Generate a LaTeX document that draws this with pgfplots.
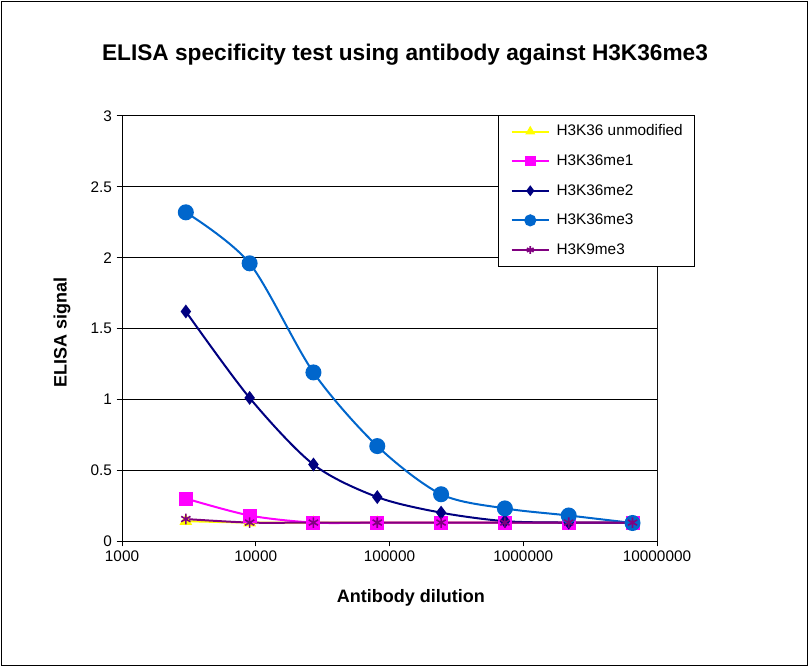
\documentclass[border=0pt]{standalone}
\usepackage{fontspec}
\setmainfont{Liberation Sans}
\usepackage{pgfplots}
\pgfplotsset{compat=1.18}
\usetikzlibrary{calc}

\definecolor{cUnmod}{RGB}{255,255,0}
\definecolor{cMeOne}{RGB}{255,0,255}
\definecolor{cMeTwo}{RGB}{0,0,128}
\definecolor{cMeThree}{RGB}{0,102,204}
\definecolor{cKnine}{RGB}{128,0,128}

\begin{document}
\begin{tikzpicture}
\begin{axis}[
    at={(0,0)}, anchor=south west,
    scale only axis,
    width=401.25pt, height=318.75pt,
    xmode=log, log basis x=10,
    xmin=1000, xmax=10000000,
    ymin=0, ymax=3,
    xtick={1000,10000,100000,1000000,10000000},
    xticklabels={1000,10000,100000,1000000,10000000},
    ytick={0,0.5,1,1.5,2,2.5,3},
    yticklabels={0,0.5,1,1.5,2,2.5,3},
    minor xtick={}, 
    xtick pos=bottom, ytick pos=left,
    tick align=outside,
    major tick length=4pt,
    tick style={black, line width=0.75pt},
    axis line style={black, line width=0.75pt},
    ymajorgrids,
    major grid style={black, line width=0.75pt},
    ticklabel style={font=\fontsize{11.5}{13}\selectfont},
    /pgf/number format/assume math mode=true,
    title={ELISA specificity test using antibody against H3K36me3},
    title style={font=\bfseries\fontsize{17}{20}\selectfont, at={(axis description cs:0.529,1.125)}, anchor=center},
    xlabel={Antibody dilution},
    xlabel style={font=\bfseries\fontsize{13.5}{16}\selectfont, at={(axis description cs:0.54,-0.134)}, anchor=center},
    ylabel={ELISA signal},
    ylabel style={font=\bfseries\fontsize{13.5}{16}\selectfont, at={(axis description cs:-0.112,0.49)}, anchor=center},
    legend style={at={(rel axis cs:0.703,1.003)}, anchor=north west,
        draw=black, line width=0.75pt,
        font=\fontsize{11.5}{13}\selectfont,
        cells={anchor=west},
        nodes={inner sep=0pt, text height=8.5pt, text depth=2pt},
        /tikz/every odd column/.append style={column sep=5pt},
        row sep=11.7pt, inner xsep=9pt, inner ysep=7pt},
    legend image code/.code={%
        \draw[mark repeat=2, mark phase=2, every mark/.append style={scale=0.72}]
            plot coordinates {(0pt,0pt) (14pt,0pt) (28pt,0pt)};},
    every axis plot/.append style={smooth, line width=1.5pt},
]
\addplot[color=cUnmod, mark=triangle*, mark size=4pt, mark options={solid}] coordinates {
    (3000,0.14) (9000,0.13) (27000,0.13) (81000,0.13) (243000,0.13) (729000,0.13) (2187000,0.13) (6561000,0.13)};
\addlegendentry{H3K36 unmodified}
\addplot[color=cMeOne, mark=square*, mark size=4.5pt] coordinates {
    (3000,0.30) (9000,0.18) (27000,0.13) (81000,0.13) (243000,0.13) (729000,0.13) (2187000,0.13) (6561000,0.13)};
\addlegendentry{H3K36me1}
\addplot[color=cMeTwo, mark=diamond*, mark size=4pt] coordinates {
    (3000,1.62) (9000,1.01) (27000,0.54) (81000,0.31) (243000,0.20) (729000,0.14) (2187000,0.13) (6561000,0.13)};
\addlegendentry{H3K36me2}
\addplot[color=cMeThree, mark=*, mark size=5.25pt] coordinates {
    (3000,2.32) (9000,1.96) (27000,1.19) (81000,0.67) (243000,0.33) (729000,0.23) (2187000,0.18) (6561000,0.127)};
\addlegendentry{H3K36me3}
\addplot[color=cKnine, mark=asterisk, mark size=4pt, mark options={line width=1.2pt}] coordinates {
    (3000,0.155) (9000,0.13) (27000,0.13) (81000,0.13) (243000,0.13) (729000,0.13) (2187000,0.13) (6561000,0.13)};
\addlegendentry{H3K9me3}
\coordinate (o) at (rel axis cs:0,0);
\draw[gray, line width=0.75pt] (rel axis cs:1,0) -- (rel axis cs:1,1);
\end{axis}
\pgfresetboundingbox
\path[use as bounding box] ($(o)+(-91.5pt,-94.5pt)$) rectangle ++(606.75pt,500.25pt);
\draw[black, line width=0.75pt] ($(o)+(-90.5pt,-93.5pt)$) rectangle ++(604.75pt,498.25pt);
\end{tikzpicture}
\end{document}
